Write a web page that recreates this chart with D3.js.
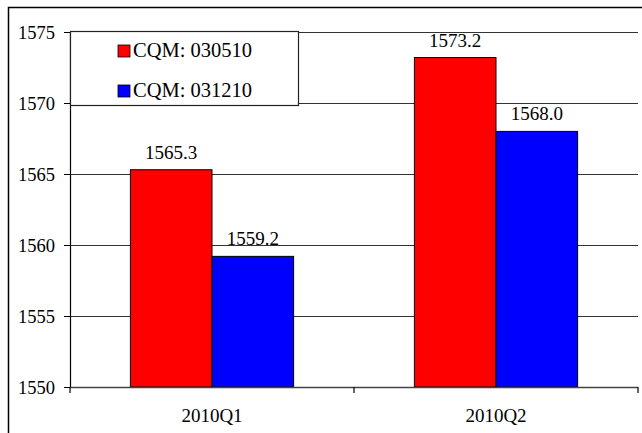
<!DOCTYPE html>
<html>
<head>
<meta charset="utf-8">
<script src="https://cdn.jsdelivr.net/npm/d3@7"></script>
<style>
  html, body { margin: 0; padding: 0; background: #fff; }
  svg { display: block; }
  svg text { font-family: "Liberation Serif", "Tinos", "Times New Roman", "DejaVu Serif", serif; }
</style>
</head>
<body>
<script>
// Quarterly figures under two CQM forecast vintages
const categories = ["2010Q1", "2010Q2"];
const seriesNames = ["CQM: 030510", "CQM: 031210"];
const series030510 = [1565.3, 1573.2];
const series031210 = [1559.2, 1568.0];
const yTicks = [1550, 1555, 1560, 1565, 1570, 1575];
const seriesColors = ["#ff0000", "#0000ff"];

const W = 642, H = 433;
const margin = { left: 70, right: 4, top: 32, bottom: 46 };
const plotW = W - margin.left - margin.right;
const plotH = H - margin.top - margin.bottom;

const rows = categories.map((c, i) => ({
  cat: c,
  values: [series030510[i], series031210[i]]
}));

const svg = d3.select("body").append("svg")
  .attr("width", W).attr("height", H);

// Outer chart frame (extends past the right and bottom edges)
svg.append("path")
  .attr("d", `M8.5,${H + 2}V7.5H${W + 2}`)
  .attr("fill", "none").attr("stroke", "#000").attr("stroke-width", 1.5);

const g = svg.append("g").attr("transform", `translate(${margin.left},${margin.top})`);

const x0 = d3.scaleBand().domain(categories).range([0, plotW]).paddingInner(0).paddingOuter(0);
const x1 = d3.scaleBand().domain(d3.range(seriesNames.length))
  .range([0, x0.bandwidth()]).paddingInner(0).paddingOuter(0.74);
const y = d3.scaleLinear().domain([1550, 1575]).range([plotH, 0]);

// Horizontal gridlines
g.append("g").selectAll("line")
  .data(yTicks.filter(t => t !== 1550))
  .join("line")
  .attr("x1", 0).attr("x2", plotW)
  .attr("y1", d => Math.round(y(d)) + 0.5).attr("y2", d => Math.round(y(d)) + 0.5)
  .attr("stroke", "#333").attr("stroke-width", 1.2);

// Bars
const groups = g.append("g").selectAll("g")
  .data(rows).join("g")
  .attr("transform", d => `translate(${x0(d.cat)},0)`);

groups.selectAll("rect")
  .data(d => d.values.map((v, i) => ({ v, i })))
  .join("rect")
  .attr("x", d => x1(d.i))
  .attr("width", x1.bandwidth())
  .attr("y", d => y(d.v))
  .attr("height", d => plotH - y(d.v))
  .attr("fill", d => seriesColors[d.i])
  .attr("stroke", "#000").attr("stroke-width", 1);

// Value labels
groups.selectAll("text.val")
  .data(d => d.values.map((v, i) => ({ v, i })))
  .join("text")
  .attr("class", "val")
  .attr("x", d => x1(d.i) + x1.bandwidth() / 2)
  .attr("y", d => y(d.v) - 11)
  .attr("text-anchor", "middle")
  .attr("font-size", 19)
  .text(d => d3.format(".1f")(d.v));

// Y axis
const yAxis = g.append("g")
  .call(d3.axisLeft(y).tickValues(yTicks).tickSize(6).tickSizeOuter(0).tickFormat(d3.format("d")));
yAxis.attr("font-family", null).attr("font-size", null);
yAxis.select(".domain").attr("stroke", "#000").attr("stroke-width", 1.2);
yAxis.selectAll(".tick line").attr("stroke", "#000");
yAxis.selectAll(".tick text")
  .attr("x", -15).attr("dy", "0.34em")
  .attr("fill", "#000")
  .attr("font-size", 18.5);

// X axis with ticks at category boundaries
const xAxisG = g.append("g").attr("transform", `translate(0,${plotH})`);
xAxisG.append("line")
  .attr("x1", 0).attr("x2", plotW).attr("y1", 0.5).attr("y2", 0.5)
  .attr("stroke", "#444").attr("stroke-width", 1.5);
const bounds = categories.map(c => x0(c)).concat([plotW]);
xAxisG.selectAll("line.tk")
  .data(bounds).join("line").attr("class", "tk")
  .attr("x1", d => d).attr("x2", d => d).attr("y1", 0).attr("y2", 6)
  .attr("stroke", "#000").attr("stroke-width", 1.2);
xAxisG.selectAll("text.cat")
  .data(categories).join("text").attr("class", "cat")
  .attr("x", d => x0(d) + x0.bandwidth() / 2)
  .attr("y", 35)
  .attr("text-anchor", "middle")
  .attr("font-size", 19)
  .text(d => d);

// Legend
const legend = g.append("g");
legend.append("rect")
  .attr("x", 0.5).attr("y", -0.5).attr("width", 228).attr("height", 74)
  .attr("fill", "#fff").attr("stroke", "#222").attr("stroke-width", 1.2);
const items = legend.selectAll("g.item")
  .data(seriesNames).join("g").attr("class", "item")
  .attr("transform", (d, i) => `translate(48,${13 + i * 40})`);
items.append("rect")
  .attr("width", 12).attr("height", 12)
  .attr("fill", (d, i) => seriesColors[i])
  .attr("stroke", "#000").attr("stroke-width", 0.8);
items.append("text")
  .attr("x", 15).attr("y", 12)
  .attr("font-size", 20.5)
  .text(d => d);
</script>
</body>
</html>
